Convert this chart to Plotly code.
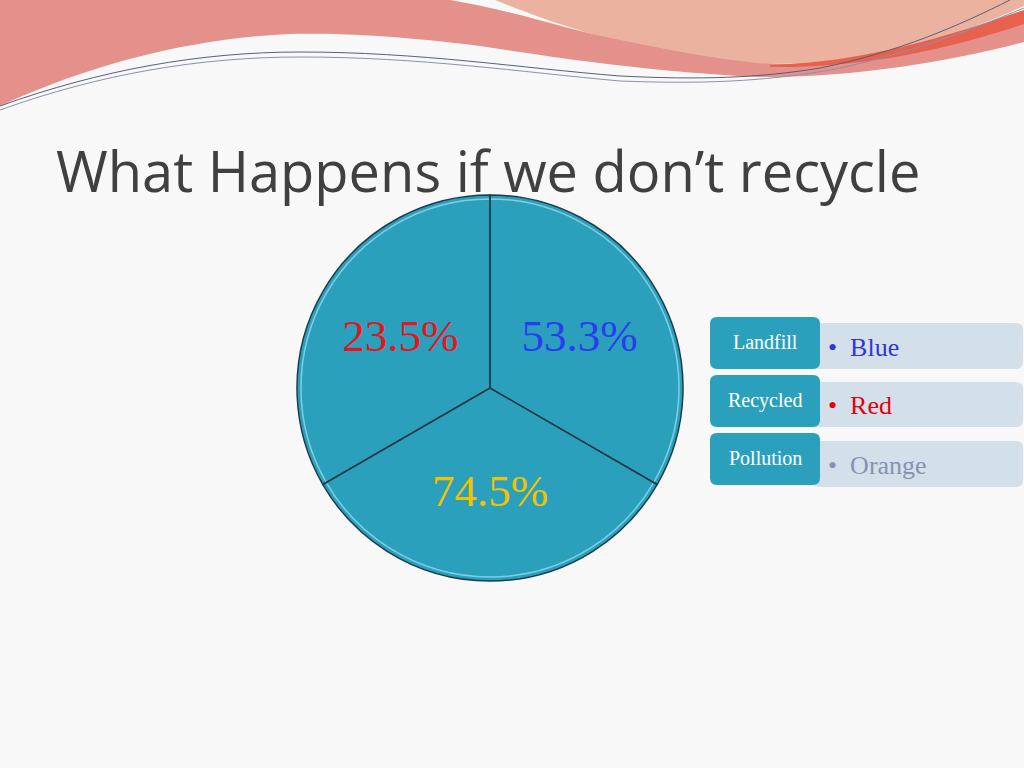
import plotly.graph_objects as go

# ── data ────────────────────────────────────────────────────────────────
# the slide draws three equal wedges, the labels carry the numbers
slice_values = [1, 1, 1]
slice_labels = ['53.3%', '74.5%', '23.5%']
label_colors = ['#2b3cf0', '#f2c200', '#e8141c']

legend_names = ['Landfill', 'Recycled', 'Pollution']
legend_words = ['Blue', 'Red', 'Orange']
word_colors = ['#3434d6', '#e2000f', '#8593b3']

TEAL = '#2ba0bd'
BG = '#f8f8f8'


def rrect(x0, y0, x1, y1, r):
    return (f'M{x0 + r},{y0} L{x1 - r},{y0} Q{x1},{y0} {x1},{y0 + r} '
            f'L{x1},{y1 - r} Q{x1},{y1} {x1 - r},{y1} L{x0 + r},{y1} '
            f'Q{x0},{y1} {x0},{y1 - r} L{x0},{y0 + r} Q{x0},{y0} {x0 + r},{y0} Z')


fig = go.Figure()

# invisible trace so the pixel-like axes exist for the decorations
fig.add_trace(go.Scatter(x=[0, 1024], y=[0, 768], mode='markers',
                         marker=dict(opacity=0), hoverinfo='skip', showlegend=False))

pie_x = [297 / 1024, 683 / 1024]
pie_y = [1 - 581 / 768, 1 - 195 / 768]

# filled wedges with the labels
fig.add_trace(go.Pie(
    values=slice_values, text=slice_labels, textinfo='text',
    textposition='inside', insidetextorientation='horizontal',
    sort=False, direction='clockwise', rotation=0,
    marker=dict(colors=[TEAL] * 3, line=dict(width=0)),
    textfont=dict(family='Liberation Serif', size=45, color=label_colors),
    hoverinfo='skip', showlegend=False,
    domain=dict(x=pie_x, y=pie_y),
))

# thin light rim just inside the edge, for the bevelled look
fig.add_trace(go.Pie(
    values=slice_values, textinfo='none', sort=False, direction='clockwise',
    rotation=0, opacity=0.6,
    marker=dict(colors=['rgba(0,0,0,0)'] * 3,
                line=dict(color='#b8eefa', width=1.5)),
    hoverinfo='skip', showlegend=False,
    domain=dict(x=[pie_x[0] + 4 / 1024, pie_x[1] - 4 / 1024],
                y=[pie_y[0] + 4 / 768, pie_y[1] - 4 / 768]),
))

# dark outlines on top
fig.add_trace(go.Pie(
    values=slice_values, textinfo='none', sort=False, direction='clockwise',
    rotation=0,
    marker=dict(colors=['rgba(0,0,0,0)'] * 3,
                line=dict(color='#1c3d4d', width=1.5)),
    hoverinfo='skip', showlegend=False,
    domain=dict(x=pie_x, y=pie_y),
))

shapes = []

# ── top decoration ──────────────────────────────────────────────────────
shapes.append(dict(type='path', layer='below', line=dict(width=0), fillcolor='#ecb2a0',
                   path='M495,0 L1024,0 L1024,6 C950,40 860,64 770,64 '
                        'C680,62 580,35 495,0 Z'))
shapes.append(dict(type='path', layer='below', line=dict(width=0), fillcolor='#e3918a',
                   path='M0,0 L450,0 C520,12 560,28 620,40 C680,52 720,60 770,64 '
                        'C860,66 950,40 1024,22 L1024,42 C950,62 850,78 760,77 '
                        'C650,72 560,58 480,46 C400,36 340,33 290,34 '
                        'C200,38 100,60 0,106 Z'))
shapes.append(dict(type='path', layer='below', line=dict(width=0), fillcolor='#e8614f',
                   path='M770,65 C870,62 950,35 1024,10 L1024,24 C950,48 870,68 770,67 Z'))
shapes.append(dict(type='path', layer='below', line=dict(color='#56607a', width=1),
                   path='M0,106 C100,70 200,52 300,52 C420,52 520,68 620,76 '
                        'C700,80 760,78 820,68 C900,52 960,25 1010,0'))
shapes.append(dict(type='path', layer='below', line=dict(color='#8a92a8', width=1),
                   path='M0,110 C100,74 200,57 300,57 C420,57 520,72 620,81 '
                        'C700,84 760,82 830,70 C910,54 970,30 1024,8'))

# ── legend boxes ────────────────────────────────────────────────────────
dark_rows = [(317, 369), (375, 427), (433, 485)]
light_rows = [(323, 369), (382, 427), (441, 487)]
for (d0, d1), (l0, l1) in zip(dark_rows, light_rows):
    shapes.append(dict(type='path', layer='below', line=dict(width=0),
                       fillcolor='#d3e0e9', path=rrect(812, l0, 1023, l1, 7)))
    shapes.append(dict(type='path', layer='below', line=dict(width=0),
                       fillcolor=TEAL, path=rrect(710, d0, 820, d1, 7)))

annotations = [dict(x=54, y=170, xref='x', yref='y', xanchor='left', yanchor='middle',
                    text='What Happens if we don’t recycle', showarrow=False,
                    font=dict(family='Open Sans', size=56, color='#404040'))]

for i, name in enumerate(legend_names):
    d0, d1 = dark_rows[i]
    l0, l1 = light_rows[i]
    annotations.append(dict(x=765, y=(d0 + d1) / 2 - 1, xref='x', yref='y',
                            text=name, showarrow=False,
                            font=dict(family='Liberation Serif', size=20, color='white')))
    annotations.append(dict(x=826, y=(l0 + l1) / 2 + 1, xref='x', yref='y',
                            xanchor='left', showarrow=False,
                            text=f'•  {legend_words[i]}',
                            font=dict(family='Liberation Serif', size=26,
                                      color=word_colors[i])))

fig.update_layout(
    width=1024, height=768,
    margin=dict(l=0, r=0, t=0, b=0),
    paper_bgcolor=BG, plot_bgcolor=BG,
    xaxis=dict(range=[0, 1024], visible=False, fixedrange=True, domain=[0, 1]),
    yaxis=dict(range=[768, 0], visible=False, fixedrange=True, domain=[0, 1]),
    shapes=shapes, annotations=annotations,
)

fig.write_html('out.html', config={'displayModeBar': False},
               post_script="document.body.style.margin = '0';")
